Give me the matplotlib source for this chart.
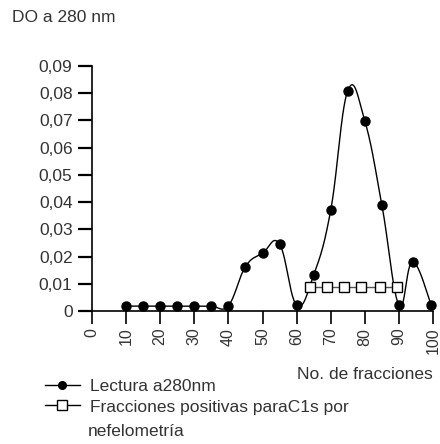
import numpy as np
import matplotlib
matplotlib.use("Agg")
import matplotlib.pyplot as plt
from matplotlib.lines import Line2D

plt.rcParams['font.family'] = ['Liberation Sans', 'DejaVu Sans']

# lectura a 280 nm
fraccion = [10, 15, 20, 25, 30, 35, 40, 45, 50, 55, 60, 65, 70, 75, 80, 85, 90, 94, 99.5]
do280 = [0.0018, 0.0018, 0.0018, 0.0018, 0.0018, 0.0018, 0.0020, 0.0163, 0.0212, 0.0246,
         0.0022, 0.0132, 0.0370, 0.0809, 0.0698, 0.0390, 0.0022, 0.0180, 0.0022]

# fracciones positivas para C1s
frac_c1s = [64, 69, 74, 79, 84.5, 89.5]
c1s = [0.0089, 0.0089, 0.0089, 0.0089, 0.0089, 0.0089]

xticks = list(range(0, 101, 10))
yticks = [0, 0.01, 0.02, 0.03, 0.04, 0.05, 0.06, 0.07, 0.08, 0.09]
ylabels = ['0', '0,01', '0,02', '0,03', '0,04', '0,05', '0,06', '0,07', '0,08', '0,09']

gris = '#333333'


def suavizar(x, y, k=5.0, n=40):
    # curva suave (bezier con puntos de control a 1/k de los vecinos)
    p = np.column_stack([x, y]).astype(float)
    pts = []
    for i in range(len(p) - 1):
        p0 = p[i - 1] if i > 0 else p[i]
        p1 = p[i]
        p2 = p[i + 1]
        p3 = p[i + 2] if i + 2 < len(p) else p[i + 1]
        c1 = p1 + (p2 - p0) / k
        c2 = p2 - (p3 - p1) / k
        t = np.linspace(0, 1, n)[:, None]
        seg = (1 - t) ** 3 * p1 + 3 * (1 - t) ** 2 * t * c1 + 3 * (1 - t) * t ** 2 * c2 + t ** 3 * p2
        pts.append(seg)
    pts = np.vstack(pts)
    return pts[:, 0], pts[:, 1]


fig = plt.figure(figsize=(4.4, 4.44), dpi=100)
ax = fig.add_axes([92 / 440, 1 - 311 / 444, 341 / 440, 245 / 444])

xs, ys = suavizar(fraccion, do280)
ax.plot(xs, ys, color='black', lw=1.0, clip_on=False, zorder=3)
ax.plot(fraccion, do280, 'o', color='black', ms=6.5, clip_on=False, zorder=4)
ax.plot(frac_c1s, c1s, '-s', color='#555555', mfc='white', mec='black', mew=1.0,
        ms=7, lw=1.0, clip_on=False, zorder=5)

ax.set_xlim(0, 100)
ax.set_ylim(0, 0.09)
ax.set_xticks(xticks)
ax.set_xticklabels([str(v) for v in xticks], rotation=90, va='top', ha='center',
                   fontsize=11.5, color=gris)
ax.set_yticks(yticks)
ax.set_yticklabels(ylabels, fontsize=12.5, color=gris)
ax.tick_params(axis='x', direction='out', length=9, width=1.2, color='black', pad=3)
ax.tick_params(axis='y', direction='out', length=10, width=1.6, color='black', pad=4)
for s in ['top', 'right']:
    ax.spines[s].set_visible(False)
ax.spines['left'].set_linewidth(1.2)
ax.spines['bottom'].set_linewidth(1.2)

fig.text(12 / 440, 1 - 22 / 444, 'DO a 280 nm', fontsize=12.5, color=gris)
fig.text(433 / 440, 1 - 379 / 444, 'No. de fracciones', fontsize=12.5, color=gris, ha='right')

h1 = Line2D([], [], color='black', marker='o', ms=5.5, lw=1.0)
h2 = Line2D([], [], color='black', marker='s', mfc='white', mec='black', ms=6.5, lw=1.0)
fig.legend([h1, h2], ['Lectura a280nm', 'Fracciones positivas paraC1s por'],
           loc='upper left', bbox_to_anchor=(45 / 440, 1 - 379 / 444), frameon=False,
           fontsize=12.5, handlelength=2.0, handletextpad=0.6, labelspacing=0.3,
           borderaxespad=0, borderpad=0, labelcolor=gris)
fig.text(88 / 440, 1 - 436 / 444, 'nefelometría', fontsize=12.5, color=gris)

fig.savefig('out.png', dpi=100)
